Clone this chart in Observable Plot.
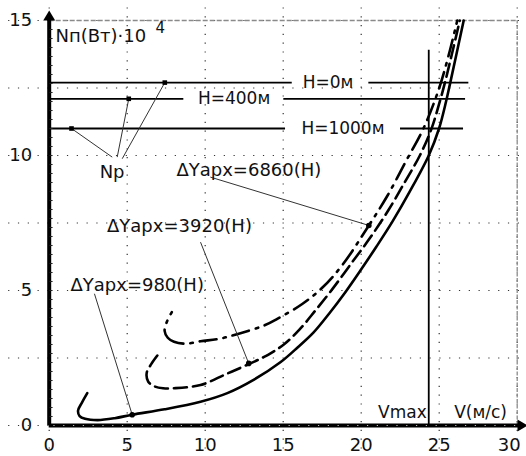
<!DOCTYPE html>
<html><head><meta charset="utf-8">
<script src="https://cdn.jsdelivr.net/npm/d3@7"></script>
<script src="https://cdn.jsdelivr.net/npm/@observablehq/plot@0.6"></script>
<style>
html,body{margin:0;padding:0;background:#fff;}
#chart svg{display:block;}
g[aria-label="tick labels"] text{letter-spacing:1.5px;}
g[aria-label="altitude labels"] text{letter-spacing:0.8px;}
g[aria-label="load labels"] text{letter-spacing:0.4px;}
</style></head><body><div id="chart"></div>
<script>
// Axis ticks and grid
const xTicks = [0, 5, 10, 15, 20, 25, 30];
const yTicks = [0, 5, 10, 15];
const yGrid = [0, 2.5, 5, 7.5, 10, 12.5, 15];

// Required power Nп (×10^4 W) vs speed V (m/s) for three aerodynamic loads ΔYарх
const curve980 = [
  [2.44,1.2],[2.1,0.85],[1.85,0.55],[1.95,0.35],[2.3,0.25],[3.1,0.2],[4.2,0.27],[5.32,0.4],
  [7.4,0.6],[9.7,0.88],[11.42,1.2],[13.13,1.7],[14.84,2.35],[15.94,2.9],[16.95,3.45],
  [17.95,4.15],[18.96,4.92],[19.96,5.75],[20.97,6.62],[22.0,7.55],[23.1,8.65],[24.33,10.0],
  [24.99,11.0],[25.44,12.0],[25.71,12.7],[26.57,15.0]
];
const curve3920 = [
  [6.93,2.59],[6.55,2.28],[6.25,1.95],[6.35,1.62],[6.75,1.45],[7.3,1.38],[8.0,1.38],[9.7,1.5],
  [11.32,1.9],[12.86,2.29],[14.03,2.62],[15.04,3.0],[16.04,3.55],[17.05,4.25],[18.15,5.05],
  [19.36,6.0],[20.57,6.95],[21.77,8.0],[22.88,9.1],[23.76,10.0],[24.48,10.95],[24.99,11.9],
  [25.39,12.75],[26.32,15.0]
];
const curve6860 = [
  [7.86,4.2],[7.55,3.85],[7.4,3.5],[7.6,3.25],[8.0,3.1],[8.72,3.03],[9.7,3.12],[10.98,3.22],
  [12.26,3.42],[13.76,3.7],[14.62,3.95],[16.22,4.5],[17.5,5.1],[18.8,5.95],[20.48,7.4],
  [21.67,8.5],[22.88,9.8],[23.99,11.0],[25.0,12.5],[25.6,13.7],[26.16,15.0]
];

// Available power Np at three altitudes
const altLabels = ["H=0м", "H=400м", "H=1000м"];
const altPower = [12.7, 12.1, 11.0];
const altLabelX = [17.87, 11.85, 18.83];
const altSegments = [
  [0, 15.58, 20.49, 26.9],
  [0, 8.63, 15.04, 26.69],
  [0, 15.15, 22.52, 26.56]
];
const npSpeed = [7.41, 5.1, 1.43];
const npLabel = {text: "Np", x: 4.03, y: 9.39};
const npFrom = [[4.68, 9.88], [4.36, 9.94], [4.04, 9.94]];

// Maximum speed
const vMax = 24.33;
const vMaxTop = 13.9;

// Load annotations
const loadLabels = ["ΔYарх=6860(H)", "ΔYарх=3920(H)", "ΔYарх=980(H)"];
const loadLabelPos = [[12.8, 9.44], [8.35, 7.37], [5.64, 5.19]];
const loadFrom = [[10.33, 9.2], [9.7, 6.79], [2.9, 4.88]];
const loadTo = [[20.49, 7.41], [12.79, 2.3], [5.32, 0.4]];

// Axis extents beyond the domain (arrow tips)
const yAxisTop = 15.37;
const xAxisEnd = 30.66;

const pts = a => a.map(([x, y]) => ({x, y}));
const hRules = altSegments.flatMap((s, i) => [
  {y: altPower[i], x1: s[0], x2: s[1]},
  {y: altPower[i], x1: s[2], x2: s[3]}
]);
const npLinks = npSpeed.map((v, i) => ({x1: npFrom[i][0], y1: npFrom[i][1], x2: v, y2: altPower[i]}));
const loadLinks = loadFrom.map((f, i) => ({x1: f[0], y1: f[1], x2: loadTo[i][0], y2: loadTo[i][1]}));
const yMinor = d3.range(1, 45).map(k => k / 3);

// dash-dot stroke: opens with two dots and a long dash, then repeats dash–dot
const dashDot = ["2.5,7,2.5,7,26,7"].concat(d3.range(24).map(() => "2.5,7,17,7")).join(",");

const arrowUp = {draw(ctx) { ctx.moveTo(0, 0); ctx.lineTo(6, 10); ctx.lineTo(-6, 10); ctx.closePath(); }};
const arrowRight = {draw(ctx) { ctx.moveTo(0, 0); ctx.lineTo(-10, 6); ctx.lineTo(-10, -6); ctx.closePath(); }};

const font = "DejaVu Sans";
const ink = "#111";

const chart = Plot.plot({
  width: 526,
  height: 456,
  marginLeft: 48.7,
  marginRight: 9.3,
  marginTop: 20,
  marginBottom: 31,
  x: {domain: [0, 30], axis: null},
  y: {domain: [0, 15], axis: null},
  style: {background: "#fff", fontFamily: font},
  marks: [
    // dotted grid running past the plot edges
    Plot.ruleX(xTicks, {y1: -1.2, y2: 15.8, stroke: "#333", strokeWidth: 1.2, strokeDasharray: "1.2,7.6"}),
    Plot.ruleY(yGrid, {x1: -2.6, x2: 30.5, stroke: "#333", strokeWidth: 1.2, strokeDasharray: "1.2,8.6"}),
    // top and right frame
    Plot.ruleY([15], {x1: 0, x2: 30, stroke: "#8a8a8a", strokeWidth: 1.3, strokeDasharray: "5,2"}),
    Plot.ruleX([30], {y1: 0, y2: 15, stroke: "#8a8a8a", strokeWidth: 1.3, strokeDasharray: "4,1.5"}),
    // tick labels
    Plot.text(yTicks, {x: 0, y: d => d, text: d => String(d), dx: -17, textAnchor: "end", fontSize: 18, fill: ink, ariaLabel: "tick labels"}),
    Plot.text(xTicks.slice(0, -1), {x: d => d, y: 0, text: d => String(d), dy: 20, fontSize: 18, fill: ink, ariaLabel: "tick labels"}),
    Plot.text(xTicks.slice(-1), {x: d => d, y: 0, text: d => String(d), dx: -8, dy: 20, fontSize: 18, fill: ink, ariaLabel: "tick labels"}),
    // altitude lines
    Plot.ruleY(hRules, {y: "y", x1: "x1", x2: "x2", stroke: "#000", strokeWidth: 1.8}),
    Plot.text(altLabels, {x: (d, i) => altLabelX[i], y: (d, i) => altPower[i], text: d => d, fontSize: 17, fill: ink, ariaLabel: "altitude labels"}),
    // maximum speed
    Plot.ruleX([vMax], {y1: 0, y2: vMaxTop, stroke: "#000", strokeWidth: 1.8}),
    // power curves
    Plot.line(pts(curve980), {x: "x", y: "y", curve: "catmull-rom", stroke: "#000", strokeWidth: 2.6}),
    Plot.line(pts(curve3920), {x: "x", y: "y", curve: "catmull-rom", stroke: "#000", strokeWidth: 2.6, strokeDasharray: "13,6"}),
    Plot.line(pts(curve6860), {x: "x", y: "y", curve: "catmull-rom", stroke: "#000", strokeWidth: 2.6, strokeDasharray: dashDot}),
    // leaders
    Plot.link(npLinks, {x1: "x1", y1: "y1", x2: "x2", y2: "y2", stroke: "#333", strokeWidth: 1}),
    Plot.dot(npSpeed.map((v, i) => ({x: v, y: altPower[i]})), {x: "x", y: "y", symbol: "square", r: 2.6, fill: "#000"}),
    Plot.text([npLabel], {x: "x", y: "y", text: "text", fontSize: 18, fill: ink}),
    Plot.link(loadLinks, {x1: "x1", y1: "y1", x2: "x2", y2: "y2", stroke: "#333", strokeWidth: 1}),
    Plot.dot(loadTo.map(([x, y]) => ({x, y})), {x: "x", y: "y", r: 2.8, fill: "#000"}),
    Plot.text(loadLabels, {x: (d, i) => loadLabelPos[i][0], y: (d, i) => loadLabelPos[i][1], text: d => d, fontSize: 18, fill: ink, ariaLabel: "load labels"}),
    // axis titles
    Plot.text(["Nп(Вт)·10"], {x: 0.4, y: 14.2, text: d => d, textAnchor: "start", lineAnchor: "bottom", fontSize: 18, fill: ink}),
    Plot.text(["4"], {x: 6.81, y: 14.52, text: d => d, textAnchor: "start", lineAnchor: "bottom", fontSize: 15, fill: ink}),
    Plot.text(["Vmax"], {x: vMax, y: 0, text: d => d, textAnchor: "end", dx: -2, dy: -13, fontSize: 17, fill: ink}),
    Plot.text(["V(м/с)"], {x: 27.65, y: 0, text: d => d, dy: -13, fontSize: 17, fill: ink}),
    // axes with arrowheads and minor ticks
    Plot.ruleX([0], {y1: 0, y2: yAxisTop - 0.3, stroke: "#000", strokeWidth: 4}),
    Plot.ruleY([0], {x1: 0, x2: xAxisEnd - 0.5, stroke: "#000", strokeWidth: 4}),
    Plot.ruleY(yMinor, {x1: 0.05, x2: 0.25, stroke: "#222", strokeWidth: 1}),
    Plot.ruleY([0], {x1: 0.3, x2: 30, stroke: "#bbb", strokeWidth: 1.2, strokeDasharray: "1.2,8.6"}),
    Plot.dot([{x: 0, y: yAxisTop}], {x: "x", y: "y", symbol: arrowUp, fill: "#000", r: 5}),
    Plot.dot([{x: xAxisEnd, y: 0}], {x: "x", y: "y", symbol: arrowRight, fill: "#000", r: 5})
  ]
});
document.getElementById("chart").appendChild(chart);
</script></body></html>
